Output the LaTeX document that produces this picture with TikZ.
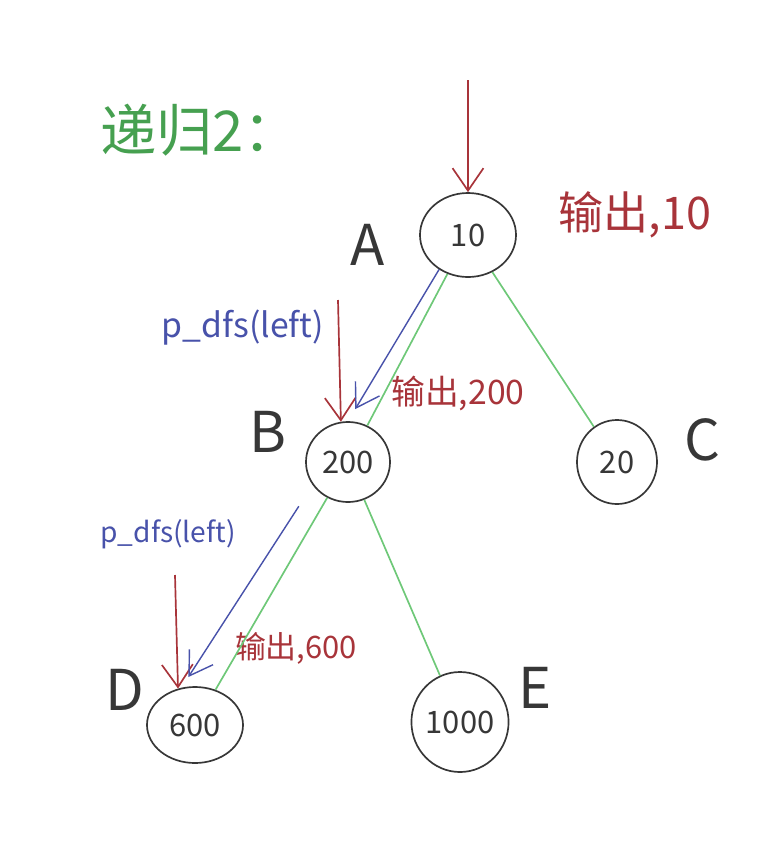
\documentclass[tikz,border=0pt]{standalone}
\usepackage{fontspec}
\setmainfont{Noto Sans CJK SC}
\usetikzlibrary{shapes.geometric,arrows.meta}
\definecolor{penred}{RGB}{168,52,58}
\definecolor{pengreen}{RGB}{70,160,80}
\definecolor{penlime}{RGB}{110,200,120}
\definecolor{penblue}{RGB}{72,82,170}
\definecolor{pengray}{RGB}{55,55,55}
\begin{document}
\begin{tikzpicture}[x=0.025cm,y=-0.025cm]
		\tikzset{vertex/.style = {shape=ellipse,draw=pengray,line width=1.2pt,inner sep=0pt,text=pengray,font=\fontsize{22}{22}\selectfont}}
		\tikzset{tag/.style = {text=pengray,font=\fontsize{40}{40}\selectfont}}
		\tikzset{note/.style = {text=penred}}
		\tikzset{call/.style = {text=penblue}}
		\tikzset{tree/.style = {draw=penlime,line width=1.2pt}}
		\tikzset{bluearrow/.style = {-{Straight Barb[length=16pt,width=20pt]},draw=penblue,line width=1pt}}
		\tikzset{redarrow/.style = {-{Straight Barb[length=16pt,width=22pt]},draw=penred,line width=1.2pt}}
		\useasboundingbox (0,0) rectangle (774,851);
		\node[text=pengreen,font=\fontsize{40}{40}\selectfont] (title) at (200,130) {递归2：};
		\node[vertex,minimum width=2.4cm,minimum height=2.1cm] (a) at (468,235) {10};
		\node[vertex,minimum width=2.1cm,minimum height=2.0cm] (b) at (348,462) {200};
		\node[vertex,minimum width=2.0cm,minimum height=2.1cm] (c) at (617,462) {20};
		\node[vertex,minimum width=2.4cm,minimum height=1.9cm] (d) at (195,725) {600};
		\node[vertex,minimum width=2.2cm,minimum height=2.5cm] (e) at (460,722) {1000};
		\node[tag] (la) at (368,245) {A};
		\node[tag] (lb) at (268,432) {B};
		\node[tag] (lc) at (702,440) {C};
		\node[tag] (ld) at (125,690) {D};
		\node[tag] (le) at (535,688) {E};
		\node[note,font=\fontsize{32}{32}\selectfont] (outa) at (635,215) {输出,10};
		\node[note,font=\fontsize{24}{24}\selectfont] (outb) at (458,393) {输出,200};
		\node[note,font=\fontsize{22}{22}\selectfont] (outd) at (296,648) {输出,600};
		\node[call,font=\fontsize{24}{24}\selectfont] (calla) at (243,328) {p\_dfs(left)};
		\node[call,font=\fontsize{20}{20}\selectfont] (callb) at (168,534) {p\_dfs(left)};
		\coordinate (in) at (468,80);
		\coordinate (ra) at (338,300);
		\coordinate (rb) at (175,575);
		\path (a) edge[tree] (b);
		\path (a) edge[tree] (c);
		\path (b) edge[tree] (d);
		\path (b) edge[tree] (e);
		\path (in) edge[redarrow] (a.north);
		\path (ra) edge[redarrow] (b.100);
		\path (rb) edge[redarrow] (d.115);
		\path (a.-130) edge[bluearrow,shorten >=10pt] (b.north);
		\path (b.-147) edge[bluearrow,shorten <=18pt,shorten >=9pt] (d.110);
	\end{tikzpicture}
\end{document}
